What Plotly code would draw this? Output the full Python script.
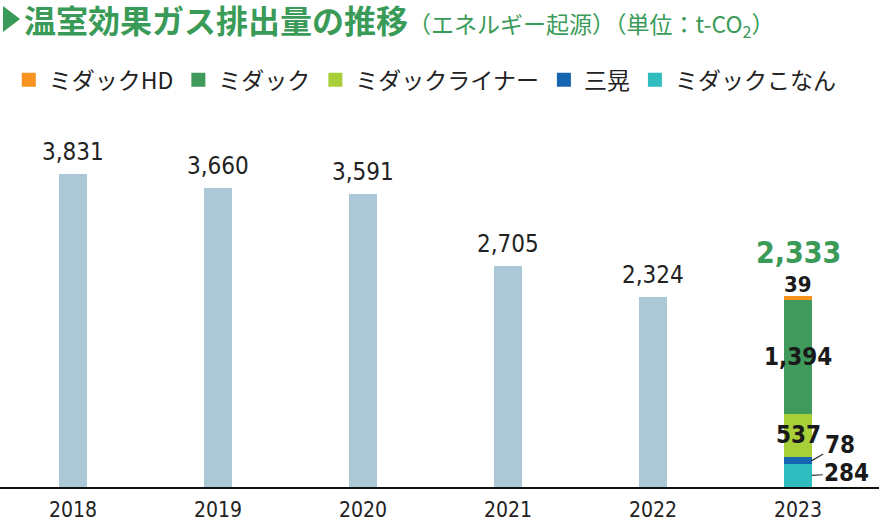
import plotly.graph_objects as go

years = ["2018", "2019", "2020", "2021", "2022", "2023"]
past_totals = [3831, 3660, 3591, 2705, 2324]
companies = ["ミダックHD", "ミダック", "ミダックライナー", "三晃", "ミダックこなん"]
values_2023 = [39, 1394, 537, 78, 284]
total_2023 = 2333

colors = ["#f7931e", "#3f9a5c", "#a8cf38", "#1665b0", "#2fbdc0"]
past_color = "#aac8d6"
green = "#3a9b58"
num_font = "DejaVu Sans Condensed, Roboto, sans-serif"
jp_font = "Noto Sans CJK JP, sans-serif"

bar_w = 0.19
x_pos = list(range(len(years)))

fig = go.Figure()

# 2018-2022 totals
fig.add_trace(go.Bar(
    x=x_pos[:5], y=past_totals, width=bar_w,
    marker=dict(color=past_color, line=dict(width=0)),
    showlegend=False, hoverinfo="skip",
))

# 2023 breakdown, stacked bottom -> top
for i in reversed(range(len(companies))):
    fig.add_trace(go.Bar(
        x=[x_pos[5]], y=[values_2023[i]], width=bar_w,
        name=companies[i],
        marker=dict(color=colors[i], line=dict(width=0)),
        showlegend=False,
    ))

# legend entries (square swatches)
for i in range(len(companies)):
    fig.add_trace(go.Scatter(
        x=[None], y=[None], mode="markers", name=companies[i],
        marker=dict(symbol="square", size=14, color=colors[i]),
    ))

# labels above the past bars
for x, v in zip(x_pos[:5], past_totals):
    fig.add_annotation(
        x=x, y=v, text=f"{v:,}", showarrow=False, yanchor="bottom", yshift=6,
        font=dict(family=num_font, size=24, color="#222222"),
    )

# 2023 labels
dark = "#1a1a1a"
fig.add_annotation(
    x=x_pos[5], y=total_2023, text=f"<b>{total_2023:,}</b>", showarrow=False,
    yanchor="middle", yshift=44,
    font=dict(family=num_font, size=30, color=green),
)
fig.add_annotation(
    x=x_pos[5], y=total_2023, text=f"<b>{values_2023[0]}</b>", showarrow=False,
    yanchor="middle", yshift=12,
    font=dict(family=num_font, size=22, color=dark),
)
base_mid = values_2023[4] + values_2023[3]
fig.add_annotation(
    x=x_pos[5], y=base_mid + values_2023[2] / 2, text=f"<b>{values_2023[2]:,}</b>",
    showarrow=False, yanchor="middle",
    font=dict(family=num_font, size=24, color=dark),
)
fig.add_annotation(
    x=x_pos[5], y=base_mid + values_2023[2] + values_2023[1] / 2,
    text=f"<b>{values_2023[1]:,}</b>", showarrow=False, yanchor="middle",
    font=dict(family=num_font, size=24, color=dark),
)
fig.add_annotation(
    x=x_pos[5] + bar_w / 2, y=values_2023[4] + values_2023[3] / 2,
    text=f"<b>{values_2023[3]}</b>", showarrow=True, arrowhead=0,
    arrowwidth=1.2, arrowcolor="#333333", ax=28, ay=-16,
    font=dict(family=num_font, size=24, color=dark),
)
fig.add_annotation(
    x=x_pos[5] + bar_w / 2, y=values_2023[4] / 2,
    text=f"<b>{values_2023[4]}</b>", showarrow=True, arrowhead=0,
    arrowwidth=1.2, arrowcolor="#333333", ax=35, ay=-2,
    font=dict(family=num_font, size=24, color=dark),
)

# title
fig.add_shape(
    type="path", xref="paper", yref="paper",
    path="M 0.0034 1.243 L 0.0228 1.209 L 0.0034 1.176 Z",
    fillcolor=green, line=dict(width=0),
)
fig.add_annotation(
    xref="paper", yref="paper", x=22 / 879, y=1.207, xanchor="left", yanchor="middle",
    showarrow=False,
    text="<b>温室効果ガス排出量の推移</b>"
         "<span style='font-size:23px'>（エネルギー起源）（単位：t-CO<sub>2</sub>）</span>",
    font=dict(family=jp_font, size=32, color=green),
)

fig.update_xaxes(
    range=[-0.5034, 5.5586], tickvals=x_pos, ticktext=years,
    showline=True, linecolor="#111111", linewidth=1.5, showgrid=False,
    zeroline=False, ticks="", automargin=False, ticklabelstandoff=3,
    tickfont=dict(family=num_font, size=21, color="#222222"),
    fixedrange=True,
)
fig.update_yaxes(range=[0, 4737], visible=False, fixedrange=True, automargin=False)

fig.update_layout(
    barmode="stack",
    width=879, height=522,
    margin=dict(l=0, r=0, t=100, b=35),
    plot_bgcolor="white", paper_bgcolor="white",
    showlegend=True,
    legend=dict(
        orientation="h", x=0.01, xanchor="left", y=1.052, yanchor="middle",
        font=dict(family=jp_font, size=23, color="#222222"),
        itemwidth=30, traceorder="normal",
    ),
)

# page body has a default 8px margin; drop it so the figure sits at (0, 0)
fig.write_html(
    "out.html",
    config={"displayModeBar": False},
    post_script="document.body.style.margin = '0';",
)
